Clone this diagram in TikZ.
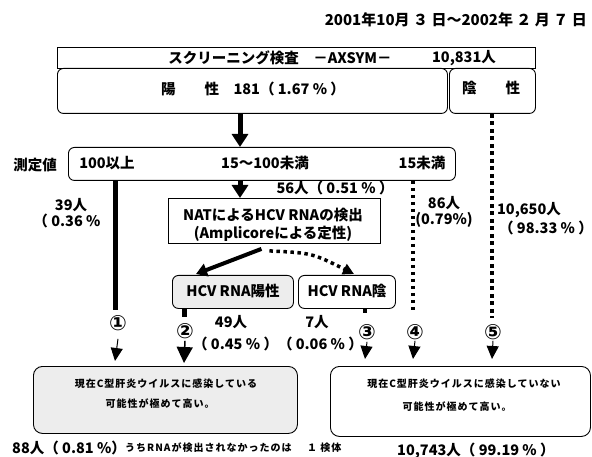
\documentclass[tikz,border=0pt]{standalone}
\usepackage{fontspec}
\setmainfont{Noto Sans CJK JP}
\newfontfamily\trackfont{Noto Sans CJK JP}[LetterSpace=10]
\newfontfamily\circfont{DejaVu Sans}
\usetikzlibrary{arrows.meta}
\begin{document}
\begin{tikzpicture}[x=1pt,y=-1pt,
  font=\bfseries\fontsize{14.5}{16}\selectfont,
  box/.style={draw,line width=0.9pt,anchor=north west,inner sep=0pt},
  rbox/.style={box,rounded corners=6pt},
  txt/.style={inner sep=0pt},
  small/.style={font=\trackfont\bfseries\fontsize{10}{11}\selectfont},
  circ/.style={inner sep=0pt,font=\circfont\bfseries\fontsize{21}{22}\selectfont},
  thickarrow/.style={line width=5pt,-{Triangle[width=16pt,length=13pt]}},
  headarrow/.style={line width=1pt,-{Triangle[width=12pt,length=13pt]}},
  sqdots/.style={line width=4.5pt,dash pattern=on 4pt off 3.5pt},
  sqdotsb/.style={line width=3.5pt,dash pattern=on 3.5pt off 3.5pt}]
\useasboundingbox (0,0) rectangle (592,457);
% columns
\coordinate (c1) at (115,0);
\coordinate (c2) at (240,0);
\coordinate (c2b) at (184,0);
\coordinate (c3) at (365,0);
\coordinate (c4) at (413,0);
\coordinate (c5) at (492,0);
% date
\node[txt,anchor=east,font=\bfseries\fontsize{15}{16}\selectfont] (date) at (587,20) {2001年10月 ３ 日～2002年 ２ 月 ７ 日};
% top boxes
\node[box,minimum width=478pt,minimum height=21pt] (scr) at (57,47) {};
\node[txt] (scrt) at (280,58) {スクリーニング検査　－AXSYM－};
\node[txt] (scrn) at (464,58) {10,831人};
\node[rbox,minimum width=390pt,minimum height=45pt] (pos) at (57,68) {};
\node[txt] (post) at (253,89) {陽　　性　181（ 1.67 \% ）};
\node[rbox,minimum width=86pt,minimum height=45pt] (neg) at (449,68) {};
\node[txt] (negt) at (491,88) {陰　　性};
% measurement box
\node[rbox,minimum width=387pt,minimum height=33pt] (meas) at (68,147) {};
\node[txt] (meast) at (35,165) {測定値};
\node[txt] (m1) at (107,163) {100以上};
\node[txt] (m2) at (265,163) {15～100未満};
\node[txt] (m3) at (422,163) {15未満};
\draw[thickarrow] (pos.south -| c2) -- (meas.north -| c2);
% NAT box
\node[box,minimum width=212pt,minimum height=45pt] (nat) at (168,198) {};
\node[txt] (nat1) at (273,215) {NATによるHCV RNAの検出};
\node[txt] (nat2) at (273,234) {(Amplicoreによる定性)};
\draw[thickarrow] (meas.south -| c2) -- (nat.north -| c2);
\node[txt] (n56) at (335,188) {56人（ 0.51 \% ）};
% HCV RNA boxes
\node[rbox,fill=gray!14,minimum width=121pt,minimum height=33pt] (hp) at (172,275) {};
\node[txt] (hpt) at (233,291) {HCV RNA陽性};
\node[rbox,minimum width=97pt,minimum height=33pt] (hn) at (298,275) {};
\node[txt] (hnt) at (347,291) {HCV RNA陰};
\draw[line width=4pt,-{Triangle[width=13pt,length=11pt]}] ([xshift=-13pt,yshift=-5pt]nat.south) -- ([xshift=24pt,yshift=1pt]hp.north west);
\draw[sqdotsb,-{Triangle[width=11pt,length=11pt]}] ([xshift=-5pt,yshift=-7pt]nat.south) .. controls (312,253) .. ([xshift=56pt,yshift=1pt]hn.north west);
% labels
\node[txt] (n39) at (71,205) {39人};
\node[txt] (p39) at (67,221) {（ 0.36 \%};
\node[txt] (n86) at (444,203) {86人};
\node[txt] (p86) at (444,220) {(0.79\%)};
\node[txt] (n10650) at (529,210) {10,650人};
\node[txt] (p10650) at (546,228) {（ 98.33 \% ）};
\node[txt] (n49) at (231,322) {49人};
\node[txt] (n7) at (317,322) {7人};
\node[txt] (p49) at (278,344) {（ 0.45 \% ）（ 0.06 \% ）};
% circled numbers
\node[circ] (o1) at (118,323) {①};
\node[circ] (o2) at (185,331) {②};
\node[circ] (o3) at (367,332) {③};
\node[circ] (o4) at (415,332) {④};
\node[circ] (o5) at (493,332) {⑤};
% result boxes
\node[rbox,rounded corners=9pt,fill=gray!14,minimum width=264pt,minimum height=67pt] (lb) at (33,366) {};
\node[txt,small] (lb1) at (166,384) {現在C型肝炎ウイルスに感染している};
\node[txt,small] (lb2) at (160,404) {可能性が極めて高い。};
\node[rbox,rounded corners=9pt,minimum width=260pt,minimum height=70pt] (rb) at (330,366) {};
\node[txt,small] (rb1) at (464,384) {現在C型肝炎ウイルスに感染していない};
\node[txt,small] (rb2) at (457,407) {可能性が極めて高い。};
% lines to results
\coordinate (e1) at (115,310);
\draw[line width=5pt] (meas.south -| c1) -- (e1);
\draw[headarrow] (o1.south) ++(0,8) -- ([yshift=5pt]lb.north -| c1);
\coordinate (e2) at (184,317);
\draw[line width=5pt] (hp.south -| c2b) -- (e2);
\draw[line width=1.5pt,-{Triangle[width=16pt,length=16pt]}] (o2.south) ++(0,2) -- ([yshift=3pt]lb.north -| c2b);
\coordinate (e3) at (365,313);
\draw[line width=4pt] (hn.south -| c3) -- (e3);
\draw[headarrow] (o3.south) ++(0,2) -- ([yshift=7pt]rb.north -| c3);
\coordinate (e4) at (413,313);
\draw[sqdotsb] (meas.south -| c4) -- (e4);
\draw[headarrow] (o4.south) ++(0,1) -- ([yshift=7pt]rb.north -| c4);
\coordinate (e5) at (492,318);
\draw[sqdots] (neg.south -| c5) -- (e5);
\draw[headarrow] (o5.south) ++(0,1) -- ([yshift=7pt]rb.north -| c5);
% bottom texts
\node[txt,anchor=west] (b1) at (12,448) {88人（ 0.81 \%）};
\node[txt,anchor=west,small] (b2) at (125,448) {うちRNAが検出されなかったのは};
\node[txt,anchor=west,small] (b3) at (307,448) {１ 検体};
\node[txt,anchor=west] (b4) at (397,451) {10,743人（ 99.19 \% ）};
\end{tikzpicture}
\end{document}
